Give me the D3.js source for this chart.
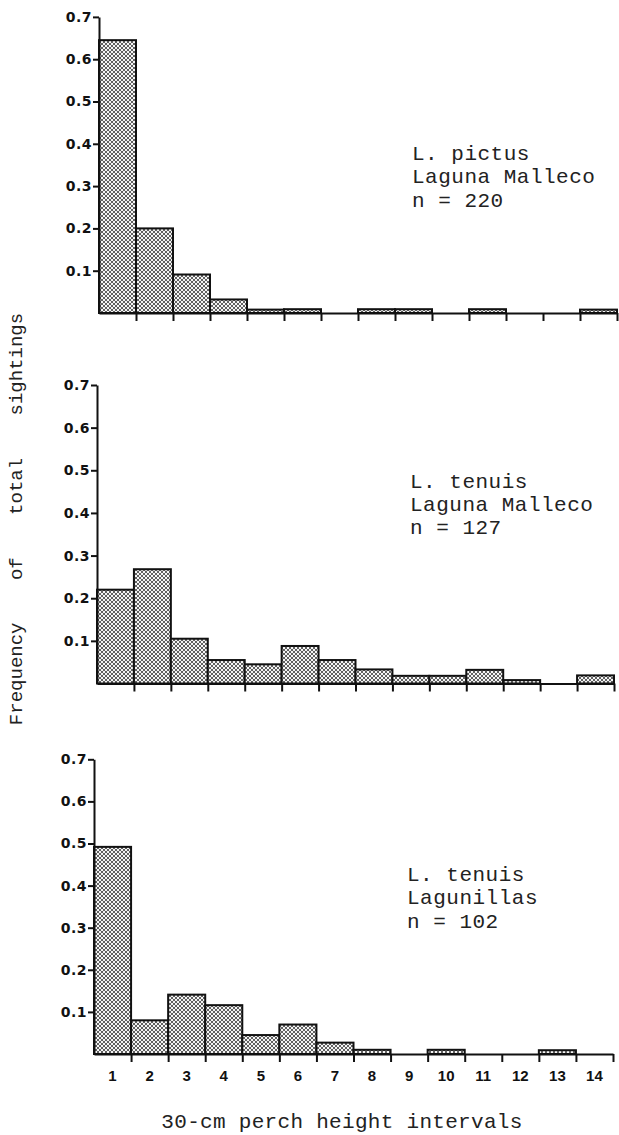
<!DOCTYPE html>
<html>
<head>
<meta charset="utf-8">
<script src="https://cdn.jsdelivr.net/npm/d3@7"></script>
<style>
  body { margin: 0; background: #fff; }
  svg { display: block; }
  .mono { font-family: "Liberation Mono", "DejaVu Sans Mono", monospace; fill: #222; }
</style>
</head>
<body>
<script>
// perch height intervals (30 cm each)
var intervals = ["1", "2", "3", "4", "5", "6", "7", "8", "9", "10", "11", "12", "13", "14"];
var yTicks = [0.1, 0.2, 0.3, 0.4, 0.5, 0.6, 0.7];

// frequency of total sightings
var pictusMalleco = [0.645, 0.200, 0.091, 0.032, 0.008, 0.009, 0, 0.009, 0.009, 0, 0.009, 0, 0, 0.008];
var tenuisMalleco = [0.220, 0.268, 0.105, 0.055, 0.045, 0.088, 0.055, 0.033, 0.018, 0.018, 0.032, 0.008, 0, 0.019];
var tenuisLagunillas = [0.492, 0.080, 0.141, 0.116, 0.045, 0.070, 0.027, 0.010, 0, 0.010, 0, 0, 0.009, 0];

var labelsPictus = ["L. pictus", "Laguna Malleco", "n = 220"];
var labelsTenuisM = ["L. tenuis", "Laguna Malleco", "n = 127"];
var labelsTenuisL = ["L. tenuis", "Lagunillas", "n = 102"];

var width = 619, height = 1135;

// panel geometry
var panels = [
    { values: pictusMalleco, labels: labelsPictus, x0: 99, x1: 617, base: 313, top: 16.9, tx: 412, ty: 160, showX: false },
    { values: tenuisMalleco, labels: labelsTenuisM, x0: 97, x1: 614, base: 683.5, top: 385, tx: 410, ty: 487.5, showX: false },
    { values: tenuisLagunillas, labels: labelsTenuisL, x0: 94, x1: 613, base: 1054, top: 759.3, tx: 407, ty: 881, showX: true }
];

var svg = d3.select("body")
    .append("svg")
    .attr("width", width)
    .attr("height", height);

svg.append("rect").attr("width", width).attr("height", height).attr("fill", "#fff");

// screen-tone fill
var pat = svg.append("defs").append("pattern")
    .attr("id", "tone")
    .attr("width", 4).attr("height", 4)
    .attr("patternUnits", "userSpaceOnUse");
pat.append("rect").attr("width", 4).attr("height", 4).attr("fill", "#444");
[[0, 0], [4, 0], [0, 4], [4, 4], [2, 2]].forEach(function (p) {
    pat.append("circle").attr("cx", p[0]).attr("cy", p[1]).attr("r", 1.2).attr("fill", "#fafafa");
});

panels.forEach(function (p) {
    var g = svg.append("g");

    var x = d3.scaleBand()
        .domain(intervals)
        .range([p.x0, p.x1])
        .padding(0);

    var xEdge = d3.scaleLinear()
        .domain([0, intervals.length])
        .range([p.x0, p.x1]);

    var y = d3.scaleLinear()
        .domain([0, 0.7])
        .range([p.base, p.top]);

    // bars
    g.append("g")
        .selectAll("rect")
        .data(p.values.map(function (v, i) { return { k: intervals[i], v: v }; })
            .filter(function (d) { return d.v > 0; }))
        .enter().append("rect")
        .attr("x", function (d) { return x(d.k); })
        .attr("width", x.bandwidth())
        .attr("y", function (d) { return y(d.v); })
        .attr("height", function (d) { return y(0) - y(d.v); })
        .attr("fill", "url(#tone)")
        .attr("stroke", "#111")
        .attr("stroke-width", 2);

    // x axis: baseline with ticks at interval edges
    var xAxis = g.append("g")
        .attr("transform", "translate(0," + p.base + ")")
        .call(d3.axisBottom(xEdge)
            .tickValues(d3.range(1, intervals.length + 1))
            .tickSize(8)
            .tickSizeOuter(0)
            .tickFormat(""));
    xAxis.select(".domain").attr("stroke", "#111").attr("stroke-width", 2);
    xAxis.selectAll(".tick line").attr("stroke", "#111").attr("stroke-width", 2);

    if (p.showX) {
        var lab = g.append("g")
            .attr("transform", "translate(0," + p.base + ")")
            .call(d3.axisBottom(x).tickSize(0).tickPadding(16));
        lab.select(".domain").remove();
        lab.selectAll("text")
            .attr("font-family", "'Liberation Sans', Arial, sans-serif")
            .attr("font-weight", "bold")
            .attr("font-size", 15)
            .attr("fill", "#111");
    }

    // y axis
    var yAxis = g.append("g")
        .attr("transform", "translate(" + p.x0 + ",0)")
        .call(d3.axisLeft(y)
            .tickValues(yTicks)
            .tickSize(6)
            .tickSizeOuter(0)
            .tickPadding(1)
            .tickFormat(d3.format(".1f")));
    yAxis.select(".domain").attr("stroke", "#111").attr("stroke-width", 2);
    yAxis.selectAll(".tick line").attr("stroke", "#111").attr("stroke-width", 2);
    yAxis.selectAll("text")
        .attr("font-family", "'DejaVu Sans', sans-serif")
        .attr("font-weight", "bold")
        .attr("font-size", 14)
        .attr("letter-spacing", 0.5)
        .attr("fill", "#111");

    // panel annotation
    g.append("text")
        .attr("class", "mono")
        .attr("font-size", 21)
        .attr("letter-spacing", 0.5)
        .selectAll("tspan")
        .data(p.labels)
        .enter().append("tspan")
        .attr("x", p.tx)
        .attr("y", function (d, i) { return p.ty + i * 23.3; })
        .text(function (d) { return d; });
});

// axis titles
svg.append("text")
    .attr("class", "mono")
    .attr("font-size", 19)
    .attr("text-anchor", "middle")
    .attr("word-spacing", 31)
    .attr("transform", "translate(22,519) rotate(-90)")
    .text("Frequency of total sightings");

svg.append("text")
    .attr("class", "mono")
    .attr("font-size", 21)
    .attr("letter-spacing", 0.3)
    .attr("text-anchor", "middle")
    .attr("x", 342)
    .attr("y", 1128)
    .text("30-cm perch height intervals");
</script>
</body>
</html>
